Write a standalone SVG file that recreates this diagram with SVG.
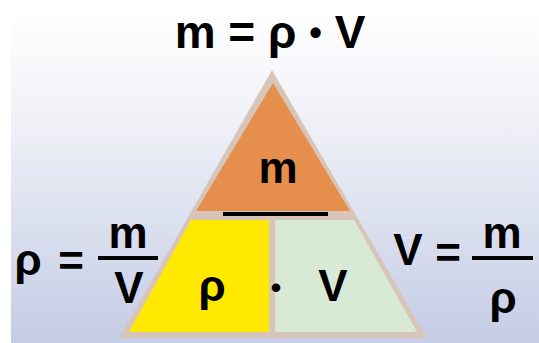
<svg xmlns="http://www.w3.org/2000/svg" width="539" height="343" viewBox="0 0 539 343">
  <defs>
    <linearGradient id="bg" x1="0" y1="0" x2="0" y2="1">
      <stop offset="0" stop-color="#ffffff"/>
      <stop offset="0.35" stop-color="#eef0f6"/>
      <stop offset="1" stop-color="#c4cce6"/>
    </linearGradient>
  </defs>
  <style>
    .t { font-family: "Liberation Sans", Arial, sans-serif; font-weight: bold; fill: #000; text-anchor: middle; }
    .big { font-size: 46px; }
    .mid { font-size: 44px; }
    .dot { font-size: 30px; }
    .bar { fill: #000; }
  </style>
  <rect x="0" y="0" width="539" height="343" fill="#ffffff"/>
  <rect x="11" y="12" width="528" height="331" fill="url(#bg)"/>

  <g id="formula-top">
    <text class="t big" x="270" y="48">m = ρ <tspan font-size="36" dy="-3">•</tspan><tspan dy="3"> V</tspan></text>
  </g>

  <g id="triangle">
    <polygon points="272,70 119,338 427,338" fill="#d8c5b9"/>
    <g id="node-m">
      <polygon points="273,83 196,211 350,211" fill="#e68f4c"/>
      <text class="t mid" x="278" y="183">m</text>
    </g>
    <g id="node-rho">
      <polygon points="191,220 269,220 269,332 129,332" fill="#ffe900"/>
      <text class="t mid" x="212" y="301">ρ</text>
    </g>
    <g id="node-V">
      <polygon points="275,220 354,220 417,332 275,332" fill="#d8ead6"/>
      <text class="t mid" x="333" y="301">V</text>
    </g>
    <text class="t dot" x="276" y="298">•</text>
    <rect class="bar" x="223" y="212" width="105" height="4"/>
  </g>

  <g id="formula-rho">
    <text class="t mid" x="28" y="275">ρ</text>
    <text class="t mid" x="71" y="276">=</text>
    <text class="t mid" x="128" y="248">m</text>
    <rect class="bar" x="98" y="256" width="60" height="4"/>
    <text class="t mid" x="129" y="303">V</text>
  </g>

  <g id="formula-V">
    <text class="t mid" x="408" y="265">V</text>
    <text class="t mid" x="448" y="268">=</text>
    <text class="t mid" x="502" y="248">m</text>
    <rect class="bar" x="472" y="256" width="61" height="4"/>
    <text class="t mid" x="503" y="313">ρ</text>
  </g>
</svg>
